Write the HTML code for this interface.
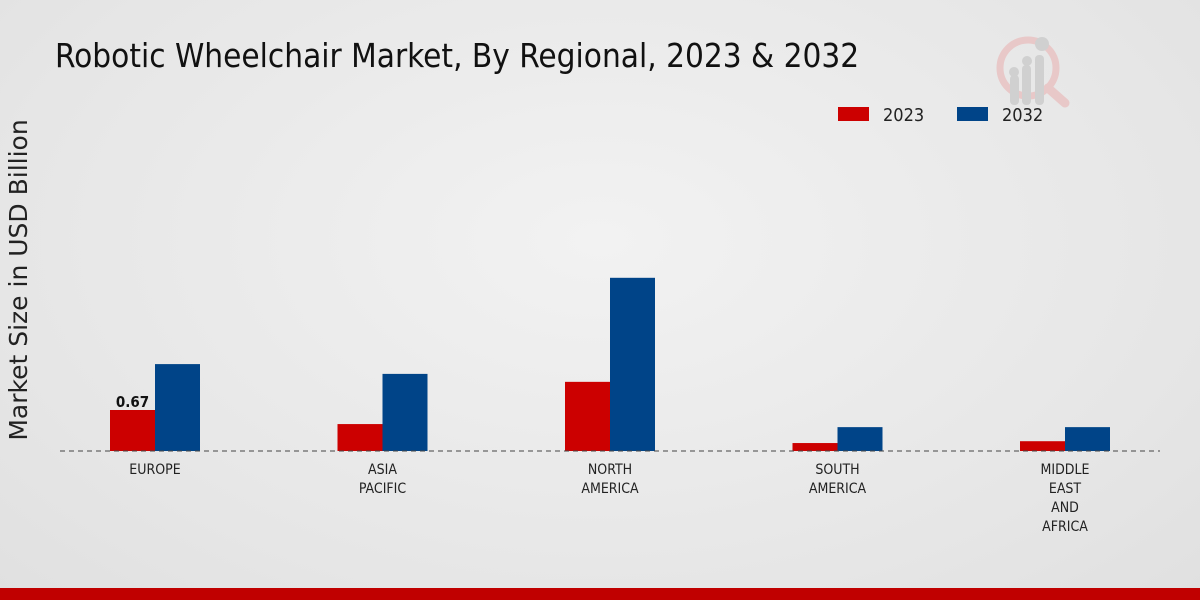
<!DOCTYPE html>
<html><head><meta charset="utf-8"><style>
html,body{margin:0;padding:0}
body{width:1200px;height:600px;overflow:hidden;background:radial-gradient(ellipse at 50% 40%,#f2f2f2 0%,#e6e6e6 70%,#e0e0e0 100%);font-family:"DejaVu Sans Condensed","DejaVu Sans","Liberation Sans",sans-serif;position:relative}
</style></head><body>
<div style="position:absolute;left:55px;top:36px;font-size:33px;color:#111;white-space:nowrap">Robotic Wheelchair Market, By Regional, 2023 &amp; 2032</div>
<svg style="position:absolute;left:990px;top:30px" width="85" height="85" viewBox="0 0 85 85">
<circle cx="38" cy="38" r="28" fill="none" stroke="#e8c8c8" stroke-width="7"/>
<line x1="58" y1="58" x2="75" y2="73" stroke="#e8c8c8" stroke-width="9" stroke-linecap="round"/>
<rect x="20" y="45" width="9" height="30" rx="4" fill="#d0d0d0"/><rect x="32" y="35" width="9" height="40" rx="4" fill="#d0d0d0"/><rect x="45" y="25" width="9" height="50" rx="4" fill="#d0d0d0"/>
<circle cx="24" cy="42" r="5" fill="#d0d0d0"/><circle cx="37" cy="31" r="5" fill="#d0d0d0"/><circle cx="52" cy="14" r="7" fill="#d0d0d0"/>
</svg>
<svg id="c" width="1200" height="600" style="position:absolute;left:0;top:0"></svg>
<div style="position:absolute;left:0;top:588px;width:1200px;height:12px;background:#c00000"></div>
<script>
const categories=[["EUROPE"],["ASIA","PACIFIC"],["NORTH","AMERICA"],["SOUTH","AMERICA"],["MIDDLE","EAST","AND","AFRICA"]];
const series2023=[0.67,0.44,1.13,0.13,0.16];
const series2032=[1.42,1.26,2.83,0.39,0.39];
const seriesNames=["2023","2032"];
const colors=["#cc0000","#004488"];
const NS="http://www.w3.org/2000/svg";
const svg=document.getElementById('c');
const baseY=451,pxPerUnit=61.2,x0=155,step=227.5,bw=45;
const yScale=v=>baseY-v*pxPerUnit;
const xCenter=i=>x0+i*step;
function mk(t,a){const e=document.createElementNS(NS,t);for(const k in a)e.setAttribute(k,a[k]);svg.appendChild(e);return e;}
[series2023,series2032].forEach((s,si)=>{
 s.forEach((v,i)=>{
  const r=mk('rect',{x:xCenter(i)-bw+si*bw,y:yScale(v),width:bw,height:baseY-yScale(v),fill:colors[si]});
  
  
 });
});
const ax=mk('line',{x1:60,x2:1160,y1:baseY,y2:baseY,stroke:'#444','stroke-dasharray':'5,4','stroke-width':1});


categories.forEach((c,i)=>{
 c.forEach((ln,j)=>{
  const t=mk('text',{x:xCenter(i),y:474+j*19,'text-anchor':'middle','font-size':14,fill:'#222'});
  t.textContent=ln;
  
  
 });
});
const vl=mk('text',{x:xCenter(0)-bw/2,y:yScale(series2023[0])-3,'text-anchor':'middle','font-size':15,'font-weight':'bold',fill:'#111'});
vl.textContent=series2023[0].toFixed(2);


const yt=mk('text',{x:0,y:0,transform:'translate(27,280) rotate(-90)','text-anchor':'middle','font-size':25,fill:'#222','font-family':'DejaVu Sans,sans-serif'});
yt.textContent='Market Size in USD Billion';


const lx=[838,957];
seriesNames.forEach((n,i)=>{
 const r=mk('rect',{x:lx[i],y:107,width:31,height:14,fill:colors[i]});
 
 
 const t=mk('text',{x:lx[i]+45,y:121,'font-size':18,fill:'#222'});
 t.textContent=n;
 
 
});
</script>
</body></html>
